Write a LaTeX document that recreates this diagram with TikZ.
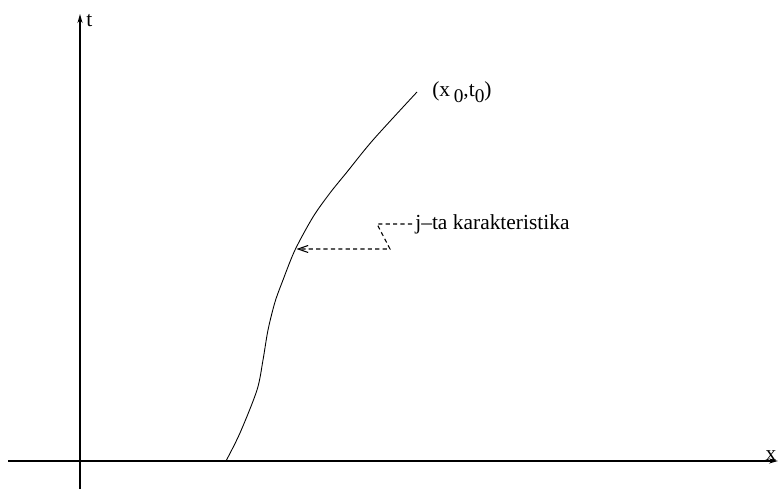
\documentclass[tikz,border=0pt]{standalone}
\usepackage{fontspec}
\setmainfont{Liberation Serif}
\usetikzlibrary{arrows.meta, positioning, calc}

\newcommand{\lowsub}[1]{\raisebox{-0.55ex}{\fontsize{11}{12}\selectfont #1}}

\begin{document}
\begin{tikzpicture}[
  >={Stealth[length=1.8mm, width=1mm]},
  lbl/.style={font=\fontsize{12.2}{14}\selectfont, inner sep=0pt},
  leader/.style={line width=0.6pt, dash pattern=on 2.4pt off 1.8pt},
]

% Frame
\useasboundingbox (0,0) rectangle (15.58,9.78);

% === Axes ===
\coordinate (xs) at (0.16,0.56);
\coordinate (xe) at (15.56,0.56);
\coordinate (ys) at (1.6,0.0);
\coordinate (ye) at (1.6,9.5);
\draw[->, line width=0.8pt] (xs) -- (xe);
\draw[->, line width=0.8pt] (ys) -- (ye);
\node[lbl, anchor=west] (tlab) at (1.72,9.36) {t};
\node[lbl] (xlab) at (15.42,0.66) {x};

% === Characteristic curve ===
\coordinate (C5) at (5.93,4.80);
\draw[line width=0.5pt, smooth, tension=0.5]
  plot coordinates {
    (4.52,0.56)
    (4.80,1.12)
    (5.14,1.98)
    (5.26,2.58)
    (5.36,3.18)
    (5.50,3.74)
    (5.66,4.18)
    (5.90,4.78)
    (6.26,5.44)
    (6.60,5.92)
    (6.94,6.34)
    (7.46,6.98)
    (8.34,7.94)
  };

% Labels
\node[lbl, anchor=west] (pt0) at (8.64,7.94)
  {(x\,\lowsub{0},t\lowsub{0})};
\node[lbl, anchor=west] (kar) at (8.30,5.30) {j–ta karakteristika};

% === Leader to curve ===
\draw[leader, -{Straight Barb[length=2mm, width=1.4mm]}]
  ($(kar.west)+(-0.06,0)$) -- ++(-0.70,0) -- ++(0.26,-0.50) -- (C5);

\end{tikzpicture}
\end{document}
